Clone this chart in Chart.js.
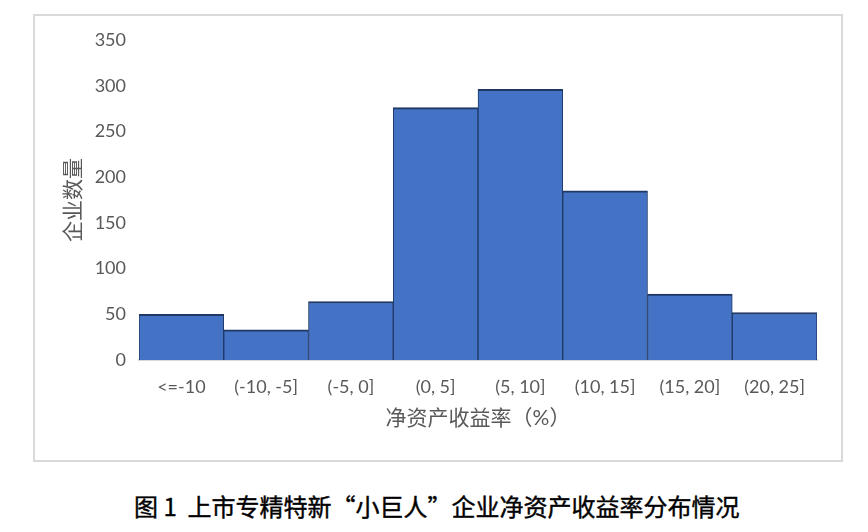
<!DOCTYPE html>
<html>
<head>
<meta charset="utf-8">
<script src="https://cdn.jsdelivr.net/npm/chart.js@4/dist/chart.umd.min.js"></script>
<style>
    body { margin: 0; background: #fff; width: 868px; height: 532px; position: relative; overflow: hidden; }
    #frame { position: absolute; left: 33px; top: 14px; width: 806px; height: 444px; border: 2px solid #d9d9d9; }
    #caption { position: absolute; left: 134px; top: 491px; white-space: pre;
               font: 400 24px "Noto Sans CJK SC", sans-serif; line-height: 30px; color: #000;
               -webkit-text-stroke: 0.4px #000; }
</style>
</head>
<body>
<div id="frame"><canvas id="roeChart" width="806" height="444"></canvas></div>
<div id="caption">图 1  上市专精特新“小巨人”企业净资产收益率分布情况</div>
<script>
const roeBins = ['<=-10', '(-10, -5]', '(-5, 0]', '(0, 5]', '(5, 10]', '(10, 15]', '(15, 20]', '(20, 25]'];
const firmCounts = [50, 33, 64, 276, 296, 185, 72, 52];
const yTicks = [0, 50, 100, 150, 200, 250, 300, 350];

const axisFont = 'Lato, "Noto Sans CJK SC", sans-serif';

const histConfig = {
    type: 'bar',
    data: {
        labels: roeBins,
        datasets: [{
            data: firmCounts,
            backgroundColor: '#4472c4',
            borderColor: '#203864',
            borderWidth: { top: 2, left: 1, right: 1, bottom: 0 },
            borderSkipped: false,
            categoryPercentage: 1.0,
            barPercentage: 1.0
        }]
    },
    options: {
        responsive: false,
        animation: false,
        devicePixelRatio: 1,
        layout: { padding: { top: 24, right: 24, bottom: 0, left: 0 } },
        plugins: {
            legend: { display: false },
            tooltip: { enabled: false }
        },
        scales: {
            x: {
                grid: { display: false, drawTicks: false },
                border: { display: true, color: '#d9d9d9', width: 2 },
                ticks: { color: '#595959', font: { family: axisFont, size: 18 }, padding: 16, maxRotation: 0 },
                title: {
                    display: true,
                    text: '净资产收益率（%）',
                    color: '#595959',
                    font: { family: axisFont, size: 21 },
                    padding: { top: 0, bottom: 29 }
                },
                afterFit: s => { s.height = 100; }
            },
            y: {
                min: 0,
                max: 350,
                grid: { display: false, drawTicks: false },
                border: { display: false },
                afterBuildTicks: s => { s.ticks = yTicks.map(v => ({ value: v })); },
                ticks: { color: '#595959', font: { family: axisFont, size: 18 }, padding: 13 },
                title: {
                    display: true,
                    text: '企业数量',
                    color: '#595959',
                    font: { family: axisFont, size: 21 },
                    padding: { top: 26, bottom: 0 }
                },
                afterFit: s => { s.width = 104; }
            }
        }
    }
};

const roeChart = new Chart(document.getElementById('roeChart').getContext('2d'), histConfig);
</script>
</body>
</html>
